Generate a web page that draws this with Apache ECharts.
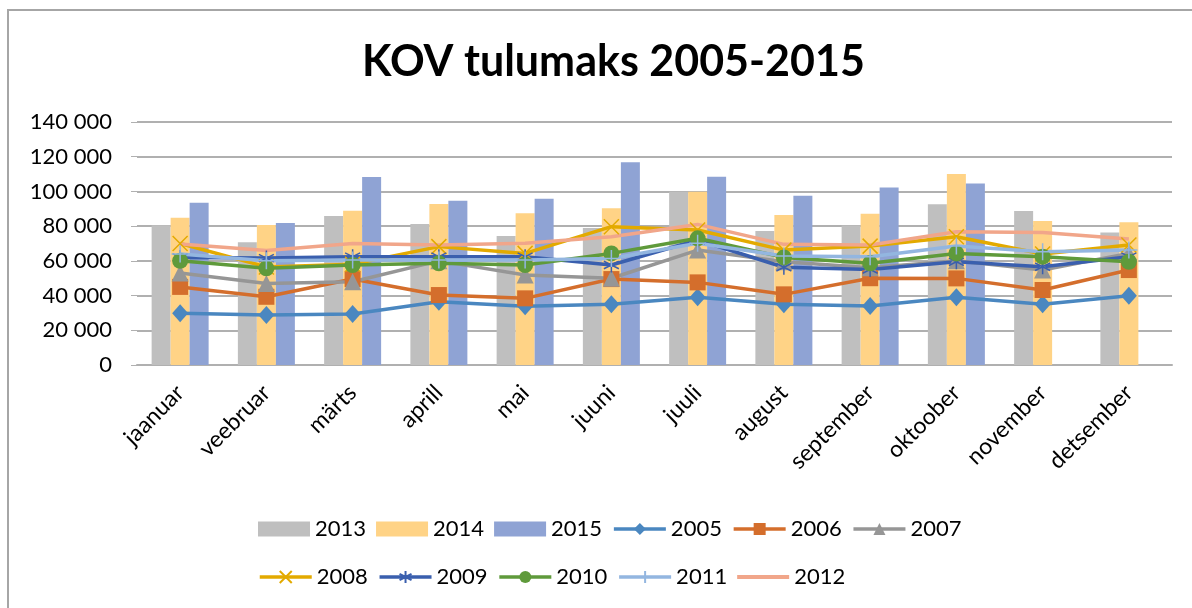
<!DOCTYPE html>
<html>
<head>
<meta charset="utf-8">
<script src="https://cdn.jsdelivr.net/npm/echarts@6/dist/echarts.min.js"></script>
<style>
  html, body { margin: 0; padding: 0; background: #fff; }
  #chart { width: 1192px; height: 608px; }
  #frame { position: absolute; left: 7px; top: 9px; width: 1200px; height: 620px; border: 2px solid #a6a6a6; box-sizing: border-box; pointer-events: none; }
</style>
</head>
<body>
<div id="chart"></div>
<div id="frame"></div>
<script>
const months = ['jaanuar', 'veebruar', 'märts', 'aprill', 'mai', 'juuni', 'juuli', 'august', 'september', 'oktoober', 'november', 'detsember'];

// bar years
const y2013 = [80500, 70700, 85800, 81200, 74300, 78900, 99800, 77200, 80300, 92600, 88700, 76400];
const y2014 = [84900, 80600, 88900, 92700, 87400, 90300, 99800, 86400, 87200, 110000, 83000, 82200];
const y2015 = [93500, 81800, 108300, 94700, 95800, 116800, 108500, 97500, 102200, 104600, null, null];

// line years
const y2005 = [29800, 28800, 29400, 36500, 33800, 35000, 39000, 35000, 34000, 39000, 35000, 39900];
const y2006 = [45000, 39300, 49500, 40300, 38400, 49500, 47600, 40700, 50000, 49900, 43200, 54700];
const y2007 = [53000, 47000, 48000, 60000, 51800, 50000, 66200, 59500, 56000, 60000, 54700, 64300];
const y2008 = [70000, 56500, 58000, 68200, 64300, 79700, 77800, 66200, 68500, 73900, 63900, 69100];
const y2009 = [62000, 61600, 62400, 62400, 62400, 57600, 72000, 56300, 55000, 59500, 56600, 62400];
const y2010 = [60000, 55700, 57600, 58600, 57600, 64300, 73000, 62000, 58600, 64300, 62400, 59500];
const y2011 = [64000, 60000, 60500, 60500, 60500, 61400, 70100, 62800, 62400, 68500, 65300, 66200];
const y2012 = [69700, 66000, 70000, 69100, 70100, 73900, 81000, 69500, 69100, 76800, 76400, 72600];

const yTicks = { min: 0, max: 140000, interval: 20000 };

const font = 'Lato, "Open Sans", sans-serif';

const xSym = 'path://M0,0L10,10M10,0L0,10';
const starSym = 'path://M5,0L5,10M0.7,2.5L9.3,7.5M0.7,7.5L9.3,2.5';
const plusSym = 'path://M5,0L5,10M0,5L10,5';
const plainLine = 'path://M0,0L52,0L52,4L0,4Z';

function bar(name, data, color) {
  return {
    name, type: 'bar', data,
    barWidth: 19, barGap: '0%',
    itemStyle: { color },
    z: 1
  };
}

function line(name, data, color, symbol, size, stroke) {
  const s = {
    name, type: 'line', data,
    symbol: symbol || 'none',
    symbolSize: size || 12,
    showSymbol: !!symbol,
    lineStyle: { color, width: 3.5 },
    itemStyle: { color, borderColor: color, borderWidth: 0 },
    z: 3
  };
  if (stroke) {
    s.itemStyle = { color: 'none', borderColor: color, borderWidth: 1.5 };
  }
  return s;
}

const chart = echarts.init(document.getElementById('chart'));

const legendBase = {
  left: 258, padding: 0,
  itemWidth: 52, itemHeight: 15, itemGap: 10,
  lineStyle: { width: 3.5 },
  textStyle: { fontSize: 22, color: '#000', fontFamily: font }
};

chart.setOption({
  animation: false,
  title: {
    text: 'KOV tulumaks 2005-2015',
    left: 357,
    top: 36,
    textStyle: { fontSize: 43, fontWeight: 'bold', color: '#000', fontFamily: font }
  },
  legend: [
    Object.assign({}, legendBase, {
      top: 518,
      data: [
        { name: '2013', icon: 'rect' }, { name: '2014', icon: 'rect' }, { name: '2015', icon: 'rect' },
        '2005', '2006', '2007'
      ]
    }),
    Object.assign({}, legendBase, {
      top: 566,
      data: ['2008', '2009', '2010', '2011', { name: '2012', icon: plainLine }]
    })
  ],
  grid: { left: 137, right: 20, top: 122, bottom: 243, containLabel: false },
  xAxis: {
    type: 'category',
    data: months,
    axisLine: { lineStyle: { color: '#b0b0b0', width: 2 } },
    axisTick: { show: false },
    axisLabel: { rotate: 45, fontSize: 23, color: '#000', fontFamily: font, margin: 24 }
  },
  yAxis: {
    type: 'value',
    min: yTicks.min, max: yTicks.max, interval: yTicks.interval,
    axisLine: { show: false },
    axisTick: { show: true, length: 6, lineStyle: { color: '#b0b0b0' } },
    splitLine: { lineStyle: { color: '#b0b0b0', width: 2 } },
    axisLabel: {
      fontSize: 22, color: '#000', fontFamily: font, margin: 25,
      formatter: v => String(v).replace(/\B(?=(\d{3})+(?!\d))/g, ' ')
    }
  },
  series: [
    bar('2013', y2013, '#bfbfbf'),
    bar('2014', y2014, '#ffd386'),
    bar('2015', y2015, '#8fa3d4'),
    line('2005', y2005, '#4a87c0', 'diamond', [16, 18]),
    line('2006', y2006, '#d46e2c', 'rect', 16),
    line('2007', y2007, '#969696', 'triangle', 17),
    line('2008', y2008, '#e3aa00', xSym, 15, true),
    line('2009', y2009, '#3a5fae', starSym, 15, true),
    line('2010', y2010, '#5f9a3b', 'circle', 16),
    line('2011', y2011, '#93b6e0', plusSym, 17, true),
    line('2012', y2012, '#f1a68a', null)
  ]
});
</script>
</body>
</html>
